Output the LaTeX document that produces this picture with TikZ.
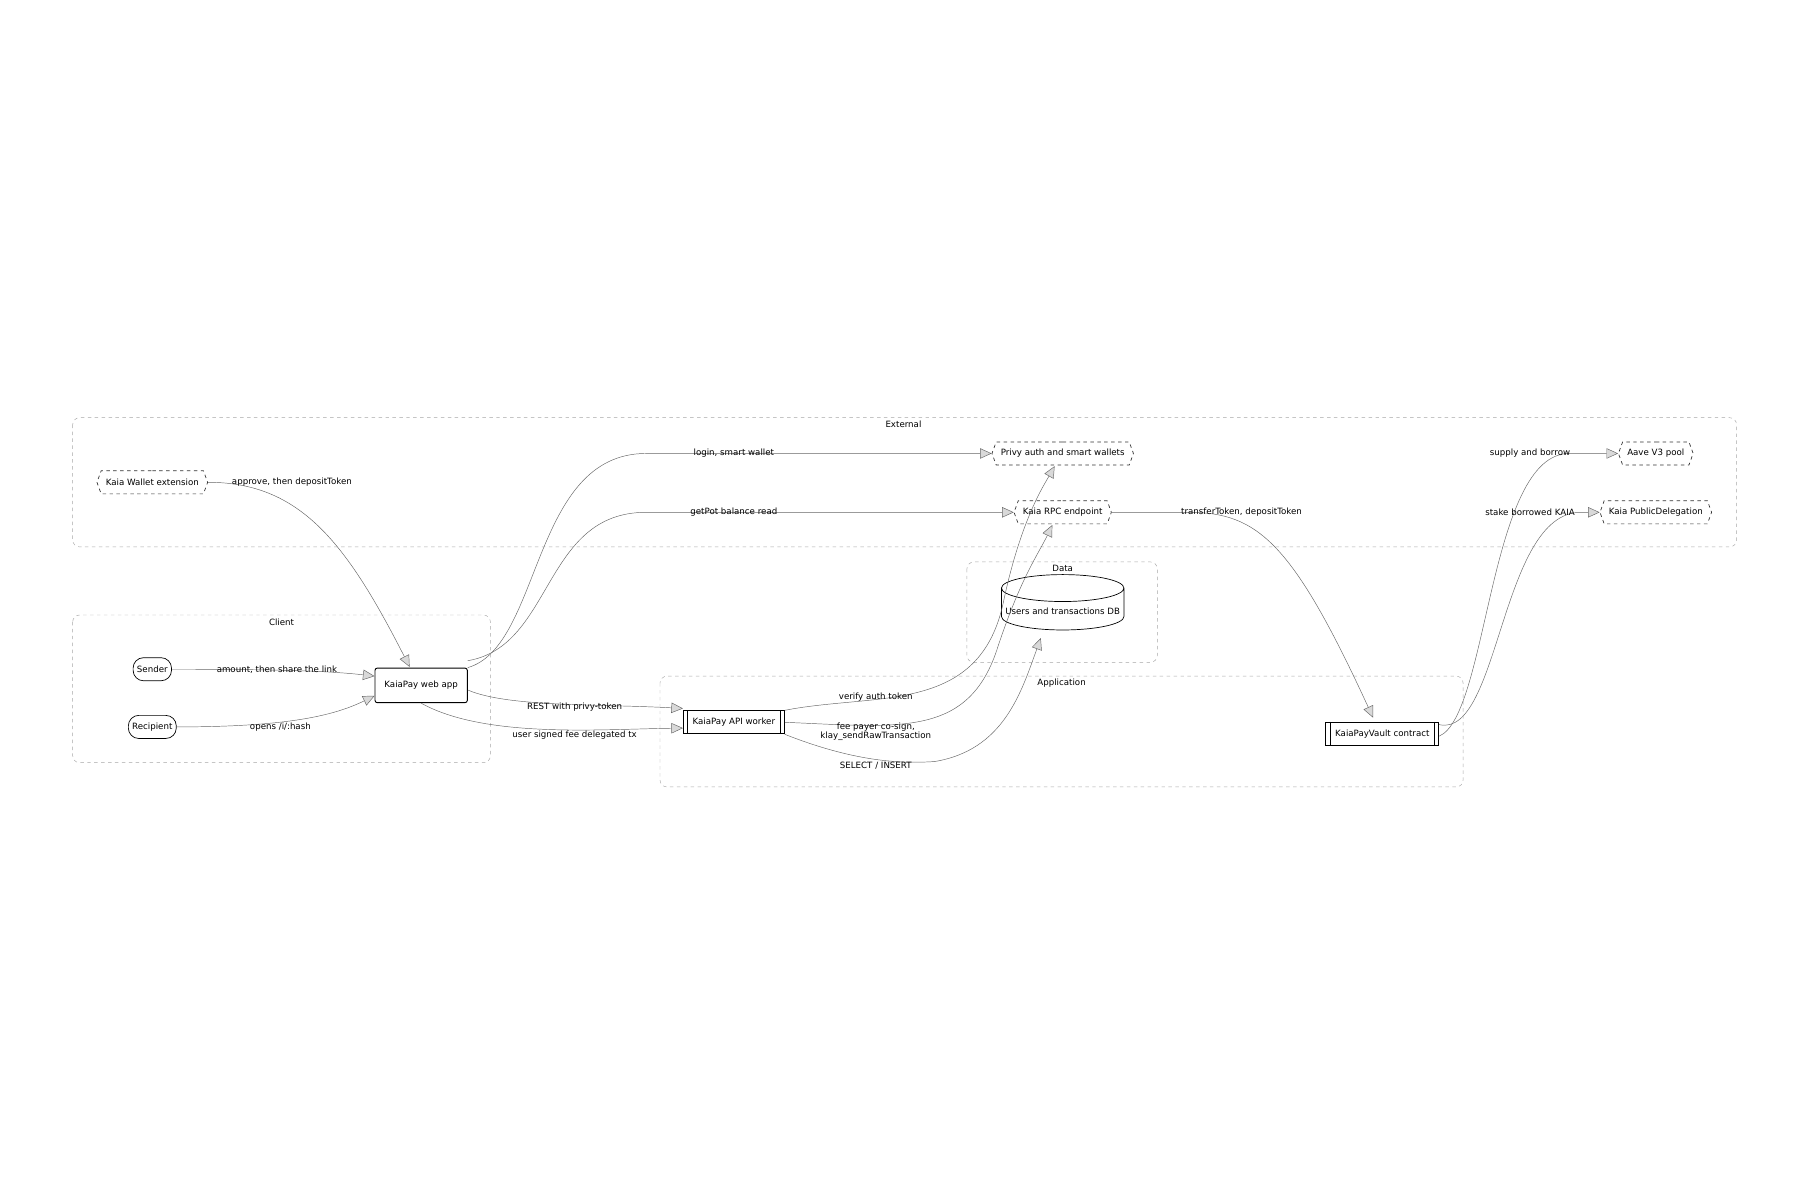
\documentclass[tikz,border=0pt]{standalone}
\usepackage{fontspec}
\setmainfont{DejaVu Sans}
\usetikzlibrary{shapes.symbols,shapes.geometric,arrows.meta}
\tikzset{
  box/.style={draw=black!35,dashed,rounded corners=6pt},
  boxlbl/.style={font=\fontsize{7.5}{8}\selectfont},
  ext/.style={draw=black!80,dashed,semithick,signal,signal to=east and west,signal pointer angle=140,
    minimum height=20pt,inner xsep=4pt,font=\fontsize{7.5}{8}\selectfont,fill=white},
  actor/.style={draw,semithick,rounded corners=9pt,minimum height=20pt,font=\fontsize{7.5}{8}\selectfont},
  sub/.style={draw,thick,minimum height=20pt,inner xsep=8pt,font=\fontsize{7.5}{8}\selectfont},
  lbl/.style={font=\fontsize{7.5}{8}\selectfont},
  link/.style={draw=black!60,thin,-{Triangle[open,fill=black!15,length=10pt,width=9pt]}},
}
\begin{document}
\begin{tikzpicture}[x=1pt,y=-1pt]
\useasboundingbox (0,0) rectangle (1560,1040);
% groups
\draw[box] (63,362) rectangle (1505,474);
\node[boxlbl] at (783,368) {External};
\draw[box] (63,533) rectangle (425,661);
\node[boxlbl] at (244,539) {Client};
\draw[box] (838,487) rectangle (1003,574);
\node[boxlbl] at (921,493) {Data};
\draw[box] (572,586) rectangle (1268,682);
\node[boxlbl] at (920,592) {Application};
% external services
\node[ext] (wallet) at (132,418) {Kaia Wallet extension};
\node[ext] (privy) at (921,393) {Privy auth and smart wallets};
\node[ext] (rpc) at (921,444) {Kaia RPC endpoint};
\node[ext] (aave) at (1435,393) {Aave V3 pool};
\node[ext] (deleg) at (1435,444) {Kaia PublicDelegation};
% client
\node[actor] (sender) at (132,580) {Sender};
\node[actor] (recip) at (132,630) {Recipient};
\node[draw,thick,rounded corners=2pt,minimum width=80pt,minimum height=30pt,
  font=\fontsize{7.5}{8}\selectfont] (web) at (365,594) {KaiaPay web app};
% application
\node[sub] (worker) at (636,626) {KaiaPay API worker};
\node[sub] (vault) at (1198,636) {KaiaPayVault contract};
\foreach \n in {worker,vault}{
  \draw[thick] ([xshift=4pt]\n.north west) -- ([xshift=4pt]\n.south west);
  \draw[thick] ([xshift=-4pt]\n.north east) -- ([xshift=-4pt]\n.south east);
}
% data
\node[draw,semithick,cylinder,shape border rotate=90,aspect=0.22,minimum width=102pt,minimum height=48pt,
  fill=white,font=\fontsize{7.5}{8}\selectfont] (db) at (921,530) {Users and transactions DB};
% connectors
\coordinate (webT) at (355,578);
\draw[link] (wallet.east) .. controls (260,418) and (300,470) .. (webT);
\draw[link] (sender.east) .. controls (250,580) and (290,582) .. (web.west |- 0,586);
\draw[link] (recip.east) .. controls (250,630) and (290,620) .. (web.west |- 0,603);
\draw[link] (web.north east) .. controls (470,560) and (460,393) .. (560,393) -- (privy.west);
\draw[link] ([yshift=6pt]web.north east) .. controls (480,560) and (470,444) .. (560,444) -- (rpc.west);
\draw[link] ([yshift=-4pt]web.east) .. controls (440,613) and (520,610) .. (worker.west |- 0,614);
\draw[link] (web.south) .. controls (420,640) and (520,632) .. (worker.west |- 0,631);
\draw[link] (worker.north east) .. controls (760,600) and (850,620) .. (870,520) .. controls (885,450) and (905,420) .. (914,404);
\draw[link] (worker.east) .. controls (780,630) and (840,640) .. (865,560) .. controls (885,500) and (900,480) .. (912,455);
\draw[link] (worker.south east) .. controls (740,660) and (780,662) .. (810,660) .. controls (870,650) and (885,600) .. (902,553);
\draw[link] (rpc.east) -- (1030,444) .. controls (1090,444) and (1120,470) .. (1190,622);
\draw[link] ([yshift=-2pt]vault.east) .. controls (1290,620) and (1290,393) .. (1360,393) -- (aave.west);
\draw[link] ([yshift=8pt]vault.east) .. controls (1300,640) and (1300,444) .. (1370,444) -- (deleg.west);
% labels
\node[lbl] at (253,418) {approve, then depositToken};
\node[lbl] at (240,580) {amount, then share the link};
\node[lbl] at (243,630) {opens /i/:hash};
\node[lbl] at (636,393) {login, smart wallet};
\node[lbl] at (636,444) {getPot balance read};
\node[lbl] at (498,613) {REST with privy-token};
\node[lbl] at (498,637) {user signed fee delegated tx};
\node[lbl] at (759,604) {verify auth token};
\node[lbl,align=center] at (759,634) {fee payer co-sign,\\klay\_sendRawTransaction};
\node[lbl] at (759,664) {SELECT / INSERT};
\node[lbl] at (1076,444) {transferToken, depositToken};
\node[lbl] at (1326,393) {supply and borrow};
\node[lbl] at (1326,444) {stake borrowed KAIA};
\end{tikzpicture}
\end{document}
